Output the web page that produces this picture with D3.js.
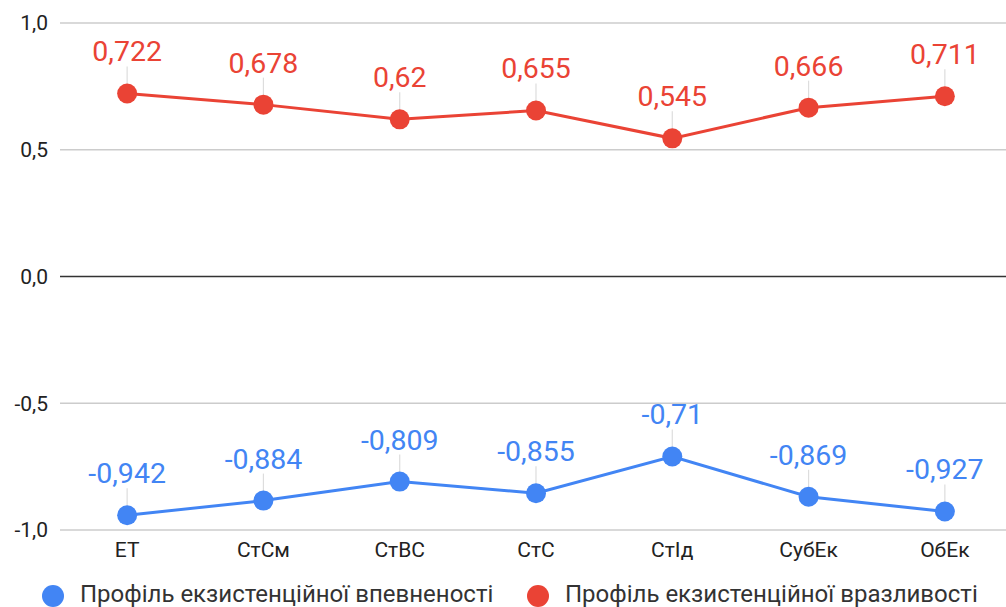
<!DOCTYPE html>
<html><head><meta charset="utf-8">
<script src="https://cdn.jsdelivr.net/npm/d3@7"></script>
<style>html,body{margin:0;padding:0;background:#fff;}svg{display:block;font-family:Roboto,sans-serif;}</style>
</head><body>
<svg id="c" width="1006" height="607"></svg>
<script>
const categories = ["ЕТ","СтСм","СтВС","СтС","СтІд","СубЕк","ОбЕк"];
const certainty = [-0.942,-0.884,-0.809,-0.855,-0.71,-0.869,-0.927];
const vulnerability = [0.722,0.678,0.62,0.655,0.545,0.666,0.711];
const yTicks = [-1.0,-0.5,0.0,0.5,1.0];
const seriesNames = ["Профіль екзистенційної впевненості","Профіль екзистенційної вразливості"];
const colors = ["#4285F4","#EA4335"];

const svg = d3.select("#c");
const x = d3.scalePoint().domain(categories).range([59,1013]).padding(0.5);
const y = d3.scaleLinear().domain([-1,1]).range([530,23]);
const fmt = v => String(v).replace(".", ",");
const fmtTick = v => d3.format(".1f")(v).replace(".", ",").replace("−","-");

// grid
const g = svg.append("g");
g.selectAll("line.grid").data(yTicks).join("line")
  .attr("x1",60).attr("x2",1006)
  .attr("y1",d=>y(d)).attr("y2",d=>y(d))
  .attr("stroke",d=>d===0?"#333":"#ccc").attr("stroke-width",1.3);
g.selectAll("text.tick").data(yTicks).join("text")
  .attr("x",48).attr("y",d=>y(d)).attr("dy","0.35em")
  .attr("text-anchor","end").attr("font-size",21).attr("fill","#222")
  .text(fmtTick);

// x labels
svg.append("g").selectAll("text").data(categories).join("text")
  .attr("x",d=>x(d)).attr("y",557).attr("text-anchor","middle")
  .attr("font-size",21).attr("fill","#222").text(d=>d);

const series = [certainty, vulnerability];
series.forEach((vals,i)=>{
  const pts = vals.map((v,j)=>({c:categories[j],v}));
  const sg = svg.append("g");
  sg.selectAll("line.lead").data(pts).join("line")
    .attr("x1",d=>x(d.c)).attr("x2",d=>x(d.c))
    .attr("y1",d=>y(d.v)-27).attr("y2",d=>y(d.v)-8)
    .attr("stroke","#ddd").attr("stroke-width",1.2);
  sg.append("path").datum(pts)
    .attr("d",d3.line().x(d=>x(d.c)).y(d=>y(d.v)))
    .attr("fill","none").attr("stroke",colors[i]).attr("stroke-width",3);
  sg.selectAll("circle").data(pts).join("circle")
    .attr("cx",d=>x(d.c)).attr("cy",d=>y(d.v)).attr("r",10)
    .attr("fill",colors[i]);
  sg.selectAll("text").data(pts).join("text")
    .attr("x",d=>x(d.c)).attr("y",d=>y(d.v)-32)
    .attr("text-anchor","middle").attr("font-size",28.5)
    .attr("fill",colors[i]).text(d=>fmt(d.v));
});

// legend
const legX = [53,538];
const lg = svg.append("g");
seriesNames.forEach((n,i)=>{
  lg.append("circle").attr("cx",legX[i]).attr("cy",596).attr("r",11).attr("fill",colors[i]);
  lg.append("text").attr("x",legX[i]+27).attr("y",602).attr("font-size",24)
    .attr("fill","#333").text(n);
});
</script>
</body></html>
